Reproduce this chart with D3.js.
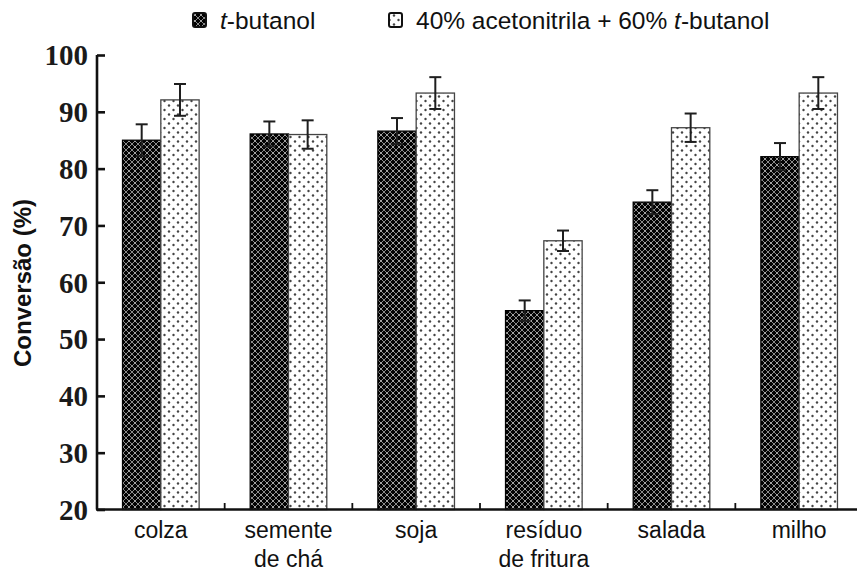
<!DOCTYPE html>
<html>
<head>
<meta charset="utf-8">
<script src="https://cdn.jsdelivr.net/npm/d3@7"></script>
<style>
  html, body { margin: 0; padding: 0; background: #fff; }
  svg { display: block; }
</style>
</head>
<body>
<svg id="chart" width="857" height="574"></svg>
<script>
// Conversion per oil feedstock, two solvent systems
const categories = [["colza"], ["semente", "de chá"], ["soja"], ["resíduo", "de fritura"], ["salada"], ["milho"]];
const seriesNames = ["t-butanol", "40% acetonitrila + 60% t-butanol"];
const butanol = [85.0, 86.1, 86.6, 55.0, 74.1, 82.1];
const butanolErr = [2.8, 2.2, 2.3, 1.8, 2.1, 2.4];
const mixture = [92.1, 86.0, 93.3, 67.3, 87.2, 93.3];
const mixtureErr = [2.8, 2.5, 2.8, 1.8, 2.5, 2.8];
const yTicks = [20, 30, 40, 50, 60, 70, 80, 90, 100];

const svg = d3.select("#chart");
const defs = svg.append("defs");

// dark cross-hatched fill
const pDark = defs.append("pattern").attr("id", "hatchDark")
  .attr("patternUnits", "userSpaceOnUse").attr("width", 6).attr("height", 6);
pDark.append("rect").attr("width", 6).attr("height", 6).attr("fill", "#020202");
pDark.append("path").attr("d", "M0,0L6,6M6,0L0,6")
  .attr("stroke", "#8a8a8a").attr("stroke-width", 1);
pDark.append("circle").attr("cx", 3).attr("cy", 3).attr("r", 0.7).attr("fill", "#ccc");

// light dotted fill
const pLight = defs.append("pattern").attr("id", "dotsLight")
  .attr("patternUnits", "userSpaceOnUse").attr("width", 9).attr("height", 9);
pLight.append("rect").attr("width", 9).attr("height", 9).attr("fill", "#fff");
pLight.append("circle").attr("cx", 2.5).attr("cy", 2).attr("r", 1.2).attr("fill", "#444");
pLight.append("circle").attr("cx", 7).attr("cy", 6.5).attr("r", 1.2).attr("fill", "#444");

const y = d3.scaleLinear().domain([20, 100]).range([509.5, 55]);
const x = d3.scaleBand().domain(d3.range(categories.length))
  .range([97, 863]).paddingInner(0.4).paddingOuter(0.2);
const xs = d3.scaleBand().domain([0, 1]).range([0, x.bandwidth()]);

const series = [
  { vals: butanol, err: butanolErr, fill: "url(#hatchDark)", stroke: "#000" },
  { vals: mixture, err: mixtureErr, fill: "url(#dotsLight)", stroke: "#444" }
];

// bars
series.forEach((s, si) => {
  svg.append("g").selectAll("rect").data(s.vals).join("rect")
    .attr("x", (d, i) => x(i) + xs(si))
    .attr("y", d => y(d))
    .attr("width", xs.bandwidth())
    .attr("height", d => y(20) - y(d))
    .attr("fill", s.fill)
    .attr("stroke", s.stroke)
    .attr("stroke-width", 1.3);
});

// error bars
series.forEach((s, si) => {
  const g = svg.append("g").attr("stroke", "#1e1e1e").attr("stroke-width", 2).attr("fill", "none");
  s.vals.forEach((v, i) => {
    const cx = x(i) + xs(si) + xs.bandwidth() / 2;
    const hi = y(v + s.err[i]), lo = y(v - s.err[i]);
    g.append("line").attr("x1", cx).attr("x2", cx).attr("y1", hi).attr("y2", lo);
    g.append("line").attr("x1", cx - 6).attr("x2", cx + 6).attr("y1", hi).attr("y2", hi);
    g.append("line").attr("x1", cx - 6).attr("x2", cx + 6).attr("y1", lo).attr("y2", lo);
  });
});

// y axis
const yAxis = d3.axisLeft(y).tickValues(yTicks).tickSize(-8).tickPadding(9);
const gy = svg.append("g").attr("transform", "translate(97,0)").call(yAxis);
gy.select(".domain").attr("stroke", "#111").attr("stroke-width", 2.6).attr("d", "M0,55V509.5");
gy.selectAll(".tick line").attr("stroke", "#111").attr("stroke-width", 2.6);
gy.selectAll(".tick text")
  .attr("font-family", "'Liberation Serif', 'Times New Roman', serif")
  .attr("font-weight", "bold").attr("font-size", 29).attr("fill", "#1a1a1a")
  .attr("dy", "0.34em");

// x axis
svg.append("line").attr("x1", 96).attr("x2", 857).attr("y1", 509.5).attr("y2", 509.5)
  .attr("stroke", "#111").attr("stroke-width", 2.4);
const bounds = d3.range(1, categories.length).map(i => x(i) - x.step() * x.paddingInner() / 2);
svg.append("g").selectAll("line").data(bounds).join("line")
  .attr("x1", d => d).attr("x2", d => d).attr("y1", 509.5).attr("y2", 503)
  .attr("stroke", "#111").attr("stroke-width", 1.8);

const xl = svg.append("g").attr("font-family", "Arial, 'Liberation Sans', sans-serif")
  .attr("font-size", 23).attr("fill", "#111").attr("text-anchor", "middle");
categories.forEach((lines, i) => {
  const cx = x(i) + x.bandwidth() / 2;
  const t = xl.append("text").attr("x", cx).attr("y", 538);
  lines.forEach((ln, k) => t.append("tspan").attr("x", cx)
    .attr("dy", k === 0 ? 0 : 29).text(ln));
});

// y title
svg.append("text").attr("transform", "translate(31,283) rotate(-90)")
  .attr("text-anchor", "middle")
  .attr("font-family", "Arial, 'Liberation Sans', sans-serif")
  .attr("font-weight", "bold").attr("font-size", 24).attr("fill", "#111")
  .text("Conversão (%)");

// legend
const legend = svg.append("g").attr("font-family", "Arial, 'Liberation Sans', sans-serif")
  .attr("font-size", 24.5).attr("fill", "#111");
const legX = [193, 389];
const legFill = ["url(#hatchDark)", "url(#dotsLight)"];
seriesNames.forEach((name, i) => {
  legend.append("rect").attr("x", legX[i]).attr("y", 13).attr("width", 13).attr("height", 14)
    .attr("rx", 2).attr("fill", legFill[i]).attr("stroke", "#111").attr("stroke-width", 2);
  const t = legend.append("text").attr("x", legX[i] + 27).attr("y", 29);
  // italicise the leading "t" of t-butanol
  const parts = name.split("t-butanol");
  if (parts[0]) t.append("tspan").text(parts[0]);
  t.append("tspan").attr("font-style", "italic").text("t");
  t.append("tspan").text("-butanol");
});
</script>
</body>
</html>
